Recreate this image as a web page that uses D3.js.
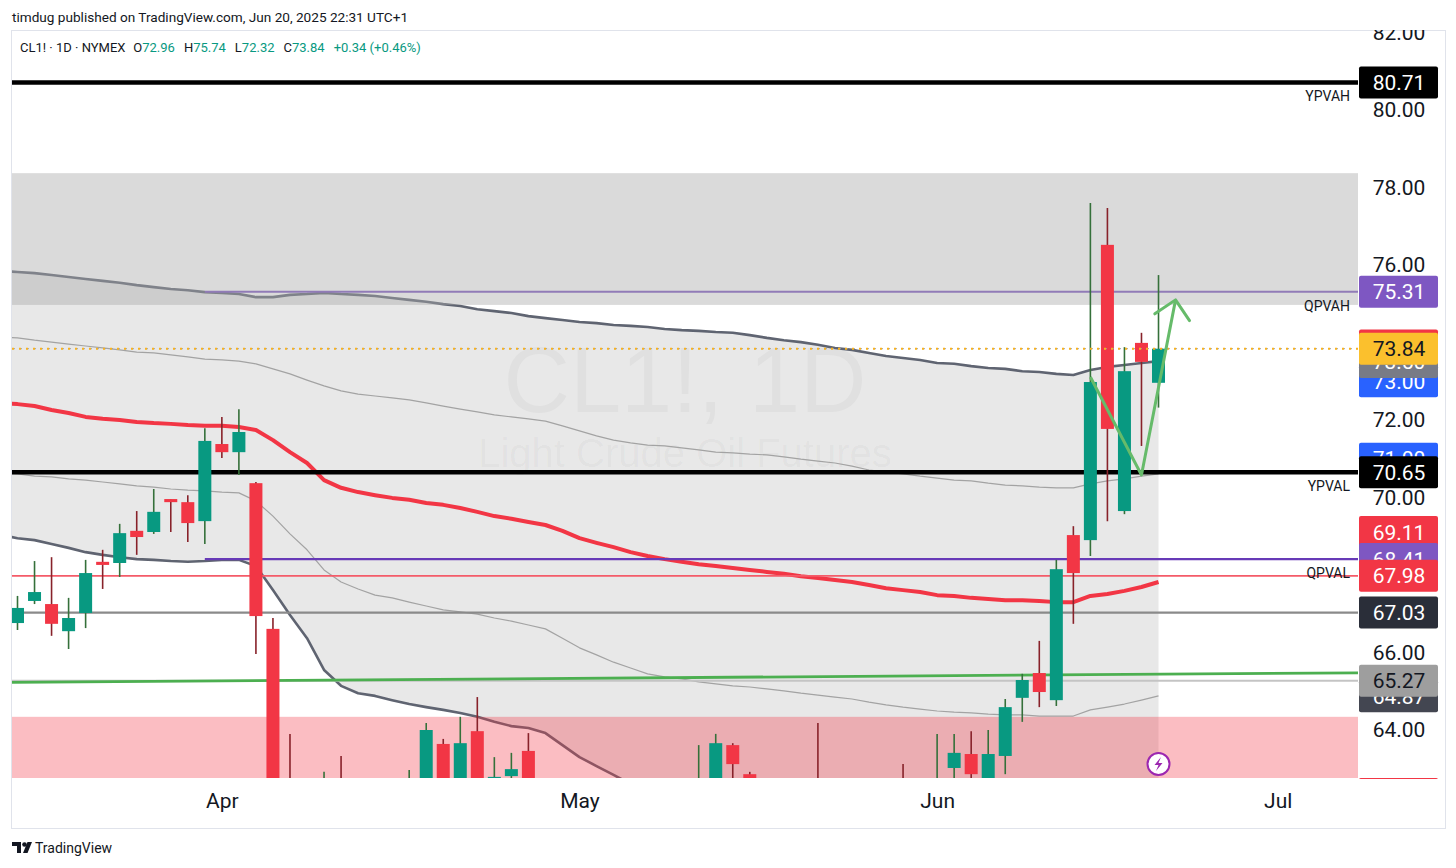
<!DOCTYPE html>
<html>
<head>
<meta charset="utf-8">
<script src="https://cdn.jsdelivr.net/npm/d3@7/dist/d3.min.js"></script>
<style>
  body { margin: 0; background: #fff; }
  svg { display: block; font-family: Roboto, "Liberation Sans", sans-serif; }
</style>
</head>
<body>
<div id="chart"></div>
<script>
// ---- data ----
const barDates = [
  "2025-03-13","2025-03-14","2025-03-17","2025-03-18","2025-03-19","2025-03-20","2025-03-21","2025-03-24","2025-03-25","2025-03-26","2025-03-27","2025-03-28","2025-03-31",
  "2025-04-01","2025-04-02","2025-04-03","2025-04-04","2025-04-07","2025-04-08","2025-04-09","2025-04-10","2025-04-11","2025-04-14","2025-04-15","2025-04-16","2025-04-17","2025-04-21","2025-04-22","2025-04-23","2025-04-24","2025-04-25","2025-04-28","2025-04-29","2025-04-30",
  "2025-05-01","2025-05-02","2025-05-05","2025-05-06","2025-05-07","2025-05-08","2025-05-09","2025-05-12","2025-05-13","2025-05-14","2025-05-15","2025-05-16","2025-05-19","2025-05-20","2025-05-21","2025-05-22","2025-05-23","2025-05-27","2025-05-28","2025-05-29","2025-05-30",
  "2025-06-02","2025-06-03","2025-06-04","2025-06-05","2025-06-06","2025-06-09","2025-06-10","2025-06-11","2025-06-12","2025-06-13","2025-06-16","2025-06-17","2025-06-18","2025-06-20"
];
const futureDates = ["2025-06-23","2025-06-24","2025-06-25","2025-06-26","2025-06-27","2025-06-30","2025-07-01","2025-07-02","2025-07-03","2025-07-07","2025-07-08"];

const opens = [67.50,66.76,67.33,67.25,66.55,67.02,68.34,68.31,69.14,69.11, 69.96,69.88,69.39,71.38,71.17,70.37,66.61,61.20,60.90,57.50,
  62.20,60.20,61.70,61.50,61.30,62.40,63.64,62.30,63.97,62.20, 62.81,63.46,62.00,60.40,58.20,59.20,56.50,57.20,59.10,58.10,
  59.90,61.00,62.00,63.61,62.86,61.60,62.40,62.60,62.20,61.50, 61.20,61.60,60.90,61.90,60.90,61.30,63.02,63.38,62.60,63.33,
  64.83,65.47,64.77,69.03,68.90,76.52,69.65,73.99,72.96];
const highs = [67.90,67.46,68.36,68.46,67.41,68.39,68.65,69.32,69.65,70.22, 69.96,70.06,71.79,72.08,72.28,70.40,66.89,63.90,61.80,62.92,
  63.33,61.90,62.40,62.20,62.97,64.18,63.77,64.34,64.85,63.30, 63.41,63.92,62.60,60.90,59.90,59.60,57.80,59.60,60.10,60.40,
  61.50,63.61,63.90,63.66,62.92,62.70,62.72,62.72,64.18,61.90, 61.90,62.20,62.00,63.12,61.50,63.90,63.90,63.97,64.00,64.80,
  65.45,66.30,68.39,69.26,77.60,77.47,73.88,74.25,75.74];
const lows = [66.50,66.58,67.25,66.43,66.09,66.63,67.64,67.95,68.52,69.06, 69.11,68.85,68.80,71.02,70.58,65.96,60.45,57.88,58.50,55.12,
  58.80,59.40,60.70,60.90,60.40,62.00,61.80,61.90,61.50,61.60, 62.40,61.80,60.20,57.90,57.80,57.50,55.30,57.10,57.50,57.80,
  59.60,60.60,61.80,62.20,60.60,61.20,61.40,61.60,61.20,60.20, 60.00,60.50,60.50,60.40,59.80,60.90,62.30,62.40,62.30,62.86,
  64.21,64.59,64.62,66.74,68.49,69.39,69.57,71.33,72.32];
const closes = [66.60,67.15,67.56,66.74,66.89,68.05,68.26,69.08,68.98,69.63, 69.88,69.34,71.46,71.17,71.69,66.94,61.99,60.70,59.58,62.35,
  60.07,61.50,61.53,61.33,62.47,64.00,62.20,63.66,62.30,62.79, 62.99,62.05,60.42,58.21,59.24,58.29,57.13,59.09,58.07,59.91,
  61.02,61.95,63.66,63.12,61.62,62.49,62.69,62.03,61.57,61.20, 61.53,60.89,61.84,60.94,60.79,62.52,63.41,62.86,63.38,64.59,
  65.29,64.98,68.15,68.05,72.98,71.77,73.26,73.50,73.84];

// anchored VWAP bands (outer + inner) and the red moving average
const bandUpper = [75.85,75.82,75.79,75.74,75.69,75.64,75.59,75.54,75.48,75.43,75.38,75.35,75.30,75.28,75.25,75.17,75.17,75.23,75.25,75.28,
  75.25,75.23,75.20,75.15,75.10,75.05,74.99,74.94,74.86,74.81,74.76,74.68,74.63,74.58,74.53,74.50,74.45,74.43,74.40,74.35,
  74.32,74.30,74.27,74.25,74.19,74.12,74.06,74.01,73.94,73.86,73.81,73.73,73.65,73.60,73.55,73.47,73.45,73.39,73.34,73.32,
  73.26,73.24,73.19,73.16,73.29,73.37,73.42,73.47,73.52];
const bandInnerUpper = [74.14,74.12,74.06,74.01,73.96,73.91,73.86,73.81,73.75,73.73,73.68,73.63,73.57,73.55,73.52,73.45,73.32,73.19,73.03,72.88,
  72.75,72.67,72.62,72.57,72.52,72.44,72.36,72.28,72.21,72.13,72.08,72.03,71.97,71.85,71.72,71.59,71.48,71.41,71.35,71.33,
  71.28,71.23,71.17,71.15,71.12,71.10,71.05,70.99,70.94,70.89,70.81,70.71,70.66,70.61,70.55,70.50,70.45,70.43,70.37,70.32,
  70.30,70.27,70.25,70.25,70.35,70.43,70.48,70.55,70.61];
const bandInnerLower = [70.63,70.61,70.55,70.53,70.48,70.45,70.40,70.35,70.30,70.27,70.22,70.19,70.17,70.14,70.12,69.91,69.52,69.06,68.65,68.13,
  67.82,67.64,67.48,67.41,67.30,67.20,67.10,67.05,66.99,66.89,66.81,66.71,66.61,66.37,66.12,65.94,65.75,65.60,65.45,65.37,
  65.32,65.24,65.19,65.14,65.11,65.06,65.01,64.95,64.90,64.85,64.80,64.72,64.65,64.59,64.54,64.49,64.46,64.44,64.41,64.39,
  64.39,64.36,64.36,64.36,64.52,64.59,64.67,64.77,64.88];
const bandLower = [69.03,68.95,68.90,68.80,68.70,68.59,68.52,68.46,68.41,68.39,68.36,68.34,68.36,68.39,68.39,68.23,67.61,66.97,66.37,65.55,
  65.14,64.95,64.88,64.77,64.67,64.59,64.52,64.44,64.34,64.21,64.10,64.05,63.92,63.61,63.30,63.07,62.84,62.61,62.40,62.25,
  62.12,62.01,61.94,61.88,61.83,61.78,61.73,61.68,61.63,61.57,61.52,61.47,61.42,61.39,61.37,61.34,61.32,61.29,61.26,61.26,
  61.24,61.24,61.24,61.24,61.37,61.47,61.60,61.73,61.83];
const redAverage = [72.44,72.41,72.36,72.26,72.18,72.08,72.03,72.00,71.95,71.92,71.90,71.87,71.85,71.85,71.82,71.74,71.48,71.17,70.89,70.45,
  70.25,70.14,70.06,69.99,69.94,69.86,69.81,69.73,69.63,69.52,69.45,69.37,69.29,69.14,68.95,68.83,68.72,68.59,68.49,68.41,
  68.34,68.28,68.23,68.18,68.13,68.08,68.03,67.97,67.92,67.87,67.82,67.74,67.66,67.61,67.56,67.48,67.46,67.41,67.38,67.35,
  67.35,67.33,67.30,67.30,67.46,67.51,67.59,67.69,67.82];

// named levels
const levelNames = ["YPVAH", "QPVAH", "YPVAL", "QPVAL"];
const levelPrices = [80.71, 75.31, 70.65, 68.41];
const levelStarts = ["2025-03-13", "2025-03-31", "2025-03-13", "2025-03-31"];
const plainLevels = [67.98, 67.03, 65.27];
const lastPrice = 73.84;

// zones: grey supply box and pink demand box
const zoneTops = [78.37, 64.34];
const zoneBottoms = [74.97, 58.00];

// green trend line and the hand-drawn arrow
const trendDates = ["2025-03-14", "2025-06-20"];
const trendPrices = [65.23, 65.44];
const arrowDates = ["2025-06-13", "2025-06-18", "2025-06-23"];
const arrowPrices = [73.11, 70.58, 75.10];

// price scale labels
const priceTicks = [64, 66, 68, 70, 72, 74, 76, 78, 80, 82];
const boxPrices = [80.71, 75.31, 73.00, 73.50, 73.92, 73.84, 71.00, 70.65, 69.11, 68.41, 67.98, 67.03, 64.87, 65.27, 62.35];
const monthTicks = ["2025-04-01", "2025-05-01", "2025-06-02", "2025-07-01"];

const headerText = "timdug published on TradingView.com, Jun 20, 2025 22:31 UTC+1";
const symbolName = "CL1!, 1D";
const symbolDesc = "Light Crude Oil Futures";

// ---- styles ----
const boxFills = ["#000000","#7e57c2","#2962ff","#787b86","#f23645","#fbc02d","#2962ff","#000000","#f23645","#7e57c2","#f23645","#2a2e39","#434651","#9e9e9e","#f23645"];
const boxText = ["#fff","#fff","#fff","#fff","#fff","#131722","#fff","#fff","#fff","#fff","#fff","#fff","#fff","#131722","#fff"];
const levelColors = ["#000", "#7e57c2", "#000", "#673ab7"];
const levelWidths = [4.5, 2, 4.5, 2.2];
const plainColors = ["#f45b69", "#8a8a8a", "#c4c4c4"];
const plainWidths = [1.8, 2.2, 2];
const zoneFills = ["rgba(170,170,170,0.435)", "rgba(242,54,69,0.33)"];
const upColor = "#089981", downColor = "#f23645";
const upWick = "#35703a", downWick = "#88222a";

const W = 1456, H = 868;
const plot = { left: 12, right: 1358, top: 30, bottom: 778 };

const svg = d3.select("#chart")
  .append("svg")
  .attr("width", W)
  .attr("height", H);

const defs = svg.append("defs");
defs.append("clipPath").attr("id", "plot-clip")
  .append("rect")
  .attr("x", plot.left).attr("y", plot.top)
  .attr("width", plot.right - plot.left).attr("height", plot.bottom - plot.top);
defs.append("clipPath").attr("id", "axis-clip")
  .append("rect")
  .attr("x", plot.right).attr("y", plot.top)
  .attr("width", 1445 - plot.right).attr("height", plot.bottom + 1 - plot.top);

const allDates = barDates.concat(futureDates);
const step = 17.03;
const x = d3.scalePoint()
  .domain(allDates)
  .range([0.47, 0.47 + step * (allDates.length - 1)]);
const y = d3.scaleLinear()
  .domain([64, 80])
  .range([730, 110]);

const bars = barDates.map((d, i) => ({
  date: d, open: opens[i], high: highs[i], low: lows[i], close: closes[i],
  upper: bandUpper[i], innerUpper: bandInnerUpper[i], innerLower: bandInnerLower[i],
  lower: bandLower[i], avg: redAverage[i]
}));

// header
svg.append("text")
  .attr("x", 12).attr("y", 22)
  .style("font-size", "13.6px")
  .attr("fill", "#131722")
  .text(headerText);

svg.append("rect")
  .attr("x", 11.5).attr("y", 30.5)
  .attr("width", 1434).attr("height", 798)
  .attr("fill", "none")
  .attr("stroke", "#e0e3eb");

const g = svg.append("g").attr("clip-path", "url(#plot-clip)");

// watermark
const midX = (plot.left + plot.right) / 2;
g.append("text")
  .attr("x", midX).attr("y", 412)
  .attr("text-anchor", "middle")
  .style("font-family", "'Liberation Sans', Arial, sans-serif")
  .style("font-size", "92px")
  .attr("fill", "rgba(0,0,0,0.045)")
  .text(symbolName);
g.append("text")
  .attr("x", midX).attr("y", 467)
  .attr("text-anchor", "middle")
  .style("font-family", "'Liberation Sans', Arial, sans-serif")
  .style("font-size", "40px")
  .attr("fill", "rgba(0,0,0,0.045)")
  .text(symbolDesc);

// band fill
g.append("path")
  .datum(bars)
  .attr("d", d3.area().x(d => x(d.date)).y0(d => y(d.lower)).y1(d => y(d.upper)))
  .attr("fill", "rgba(170,170,170,0.27)");

const lineFor = key => d3.line().x(d => x(d.date)).y(d => y(d[key]));
[["innerUpper", "#a3a3a3", 1.2], ["innerLower", "#a3a3a3", 1.2],
 ["upper", "#5f6471", 2.6], ["lower", "#5f6471", 2.6], ["avg", "#f23645", 4]]
  .forEach(([key, color, w]) => {
    g.append("path")
      .datum(bars)
      .attr("d", lineFor(key))
      .attr("fill", "none")
      .attr("stroke", color)
      .attr("stroke-width", w)
      .attr("stroke-linejoin", "round");
  });

// plain horizontal lines
plainLevels.forEach((p, i) => {
  g.append("line")
    .attr("x1", plot.left).attr("x2", plot.right)
    .attr("y1", y(p)).attr("y2", y(p))
    .attr("stroke", plainColors[i])
    .attr("stroke-width", plainWidths[i]);
});

// trend line, extended to both edges
const t0 = [x(trendDates[0]), y(trendPrices[0])];
const t1 = [x(trendDates[1]), y(trendPrices[1])];
const slope = (t1[1] - t0[1]) / (t1[0] - t0[0]);
g.append("line")
  .attr("x1", plot.left).attr("y1", t0[1] + slope * (plot.left - t0[0]))
  .attr("x2", plot.right).attr("y2", t0[1] + slope * (plot.right - t0[0]))
  .attr("stroke", "#4caf50")
  .attr("stroke-width", 2.8);

// named levels
levelNames.forEach((name, i) => {
  const ly = y(levelPrices[i]);
  g.append("line")
    .attr("x1", name === "QPVAH" || name === "QPVAL" ? x(levelStarts[i]) : plot.left)
    .attr("x2", plot.right)
    .attr("y1", ly).attr("y2", ly)
    .attr("stroke", levelColors[i])
    .attr("stroke-width", levelWidths[i]);
});

// zones drawn over lines
zoneTops.forEach((top, i) => {
  g.append("rect")
    .attr("x", plot.left).attr("width", plot.right - plot.left)
    .attr("y", y(top)).attr("height", y(zoneBottoms[i]) - y(top))
    .attr("fill", zoneFills[i]);
});

// candles
const candles = g.append("g");
candles.selectAll("line")
  .data(bars)
  .join("line")
  .attr("x1", d => x(d.date)).attr("x2", d => x(d.date))
  .attr("y1", d => y(d.high)).attr("y2", d => y(d.low))
  .attr("stroke", d => d.close >= d.open ? upWick : downWick)
  .attr("stroke-width", 1.6);
candles.selectAll("rect")
  .data(bars)
  .join("rect")
  .attr("x", d => x(d.date) - 6.5)
  .attr("width", 13)
  .attr("y", d => y(Math.max(d.open, d.close)))
  .attr("height", d => Math.max(1.5, Math.abs(y(d.open) - y(d.close))))
  .attr("fill", d => d.close >= d.open ? upColor : downColor);

// last price line
g.append("line")
  .attr("x1", plot.left).attr("x2", plot.right)
  .attr("y1", y(lastPrice)).attr("y2", y(lastPrice))
  .attr("stroke", "#9e9e9e")
  .attr("stroke-width", 1)
  .attr("stroke-dasharray", "3,4");
g.append("line")
  .attr("x1", plot.left).attr("x2", plot.right)
  .attr("y1", y(lastPrice)).attr("y2", y(lastPrice))
  .attr("stroke", "#f9b21e")
  .attr("stroke-width", 2)
  .attr("stroke-dasharray", "2,5");

// hand drawn arrow
const arrowPts = arrowDates.map((d, i) => [x(d), y(arrowPrices[i])]);
g.append("path")
  .attr("d", d3.line()(arrowPts))
  .attr("fill", "none")
  .attr("stroke", "#66bb6a")
  .attr("stroke-width", 3)
  .attr("stroke-linejoin", "round");
const tip = arrowPts[2], prev = arrowPts[1];
const back = Math.atan2(prev[1] - tip[1], prev[0] - tip[0]);
const armL = [tip[0] + 25 * Math.cos(back + Math.PI / 4), tip[1] + 25 * Math.sin(back + Math.PI / 4)];
const armR = [tip[0] + 25 * Math.cos(back - Math.PI / 4), tip[1] + 25 * Math.sin(back - Math.PI / 4)];
g.append("path")
  .attr("d", d3.line()([armL, tip, armR]))
  .attr("fill", "none")
  .attr("stroke", "#66bb6a")
  .attr("stroke-width", 3)
  .attr("stroke-linejoin", "round")
  .attr("stroke-linecap", "round");

// level captions
levelNames.forEach((name, i) => {
  g.append("text")
    .attr("x", plot.right - 8)
    .attr("y", y(levelPrices[i]) + 19)
    .attr("text-anchor", "end")
    .style("font-size", "14px")
    .attr("fill", "#131722")
    .text(name);
});

// lightning badge on the last bar
const badge = g.append("g")
  .attr("transform", `translate(${x(barDates[barDates.length - 1])}, ${plot.bottom - 14})`);
badge.append("circle").attr("r", 11).attr("fill", "#fff").attr("stroke", "#9c27b0").attr("stroke-width", 2);
badge.append("path").attr("d", "M2.5,-7 L-4,1 L0,1 L-2.5,7 L4,-1 L0,-1 Z").attr("fill", "#9c27b0");

// price axis
const axisG = svg.append("g").attr("clip-path", "url(#axis-clip)");
axisG.append("g")
  .attr("transform", "translate(1399,0)")
  .call(d3.axisRight(y).tickValues(priceTicks).tickFormat(d3.format(".2f")).tickSize(0).tickPadding(0))
  .call(a => a.select(".domain").remove())
  .selectAll("text")
  .attr("text-anchor", "middle")
  .style("font-family", "Roboto, sans-serif")
  .style("font-size", "21px")
  .attr("fill", "#131722");

boxPrices.forEach((p, i) => {
  axisG.append("rect")
    .attr("x", 1359).attr("y", y(p) - 16)
    .attr("width", 79).attr("height", 32)
    .attr("rx", 2)
    .attr("fill", boxFills[i]);
  axisG.append("text")
    .attr("x", 1399).attr("y", y(p))
    .attr("dy", "0.36em")
    .attr("text-anchor", "middle")
    .style("font-size", "21px")
    .attr("fill", boxText[i])
    .text(d3.format(".2f")(p));
});

// time axis
const parse = d3.timeParse("%Y-%m-%d");
svg.append("g")
  .attr("transform", `translate(0, ${plot.bottom})`)
  .call(d3.axisBottom(x).tickValues(monthTicks).tickFormat(d => d3.timeFormat("%b")(parse(d))).tickSize(0).tickPadding(15))
  .call(a => a.select(".domain").remove())
  .selectAll("text")
  .style("font-family", "Roboto, sans-serif")
  .style("font-size", "21px")
  .attr("fill", "#131722");

// legend line
const legend = svg.append("text")
  .attr("x", 20).attr("y", 52)
  .style("font-size", "13px")
  .attr("fill", "#131722");
legend.append("tspan").text("CL1! · 1D · NYMEX");
const ohlcKeys = ["O", "H", "L", "C"];
const lastBar = bars[bars.length - 1];
[lastBar.open, lastBar.high, lastBar.low, lastBar.close].forEach((v, i) => {
  legend.append("tspan").attr("dx", i === 0 ? 8 : 9).text(ohlcKeys[i]);
  legend.append("tspan").attr("fill", upColor).text(d3.format(".2f")(v));
});
const change = lastBar.close - closes[closes.length - 2];
legend.append("tspan").attr("dx", 9).attr("fill", upColor)
  .text(`${d3.format("+.2f")(change)} (${d3.format("+.2f")(change / closes[closes.length - 2] * 100)}%)`);

// footer logo
const logo = svg.append("g").attr("fill", "#131722");
logo.append("path").attr("d", "M12,842 h9 v11 h-4 v-7 h-5 z");
logo.append("circle").attr("cx", 24.5).attr("cy", 844.5).attr("r", 2.3);
logo.append("path").attr("d", "M27.5,842 h4.5 l-4.5,11 h-4.5 z");
svg.append("text")
  .attr("x", 35).attr("y", 853)
  .style("font-size", "14px")
  .attr("fill", "#131722")
  .text("TradingView");
</script>
</body>
</html>
